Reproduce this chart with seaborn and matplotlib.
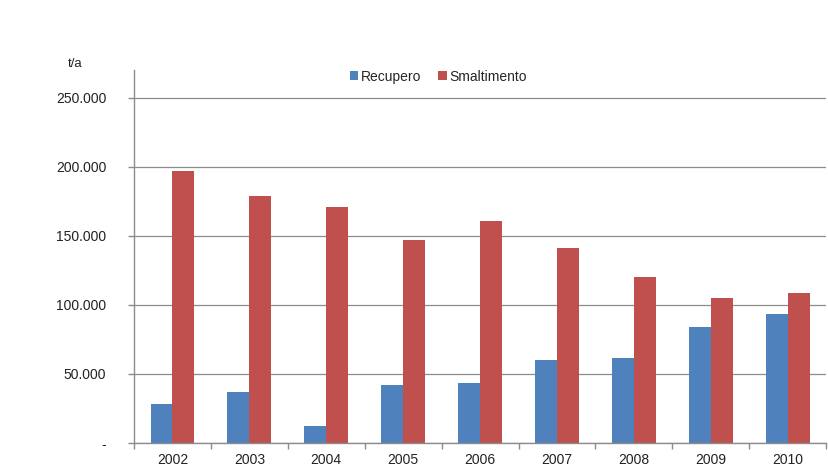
import matplotlib.pyplot as plt
import matplotlib.ticker as mticker
import numpy as np
import pandas as pd
import seaborn as sns

# Data
anni = ["2002", "2003", "2004", "2005", "2006", "2007", "2008", "2009", "2010"]
recupero = [28000, 37300, 12000, 41900, 43400, 60000, 61400, 83800, 93200]
smaltimento = [197300, 179200, 171200, 146700, 161100, 140900, 120000, 104800, 108400]

df = pd.DataFrame({
    "anno": anni * 2,
    "valore": recupero + smaltimento,
    "tipo": ["Recupero"] * len(anni) + ["Smaltimento"] * len(anni),
})

sns.set_style("white")
plt.rcParams['font.family'] = ['Liberation Sans', 'DejaVu Sans']

fig = plt.figure(figsize=(8.29, 4.72), dpi=100)
ax = fig.add_axes([0.1616, 0.0614, 0.835, 0.79])

sns.barplot(data=df, x="anno", y="valore", hue="tipo",
            palette=["#4F81BD", "#C0504D"], width=0.57, gap=0,
            saturation=1, linewidth=0, ax=ax, legend=True)

ax.set_ylim(0, 270000)
ax.set_xlim(-0.5, len(anni) - 0.5)
ax.set_yticks(np.arange(0, 250001, 50000))
ax.yaxis.set_major_formatter(mticker.FuncFormatter(
    lambda v, p: "-" if v == 0 else f"{int(v):,}".replace(",", ".")))
ax.grid(axis="y", color="#8c8c8c", linewidth=0.9)
ax.set_axisbelow(True)

for s in ["top", "right"]:
    ax.spines[s].set_visible(False)
for s in ["left", "bottom"]:
    ax.spines[s].set_color("#8c8c8c")
    ax.spines[s].set_linewidth(1)

ax.set_xlabel("")
ax.set_ylabel("")
ax.tick_params(axis="x", which="major", bottom=False, labelsize=10, pad=4, labelcolor="#222222")
ax.tick_params(axis="y", left=True, length=4, width=1, color="#8c8c8c", labelsize=10,
               pad=16, labelcolor="#222222")
ax.set_xticks(np.arange(-0.5, len(anni), 1), minor=True)
ax.tick_params(axis="x", which="minor", bottom=True, length=4, width=1,
               color="#8c8c8c", direction="out")

ax.text(-0.085, 1.0, "t/a", transform=ax.transAxes, fontsize=9.5, color="#222222",
        ha="center", va="bottom")

ax.legend(loc="upper center", bbox_to_anchor=(0.44, 1.035), ncol=2, frameon=False,
          handlelength=0.6, handleheight=0.6, handletextpad=0.2, columnspacing=1.2,
          fontsize=10)

plt.savefig("out.png", dpi=100)
